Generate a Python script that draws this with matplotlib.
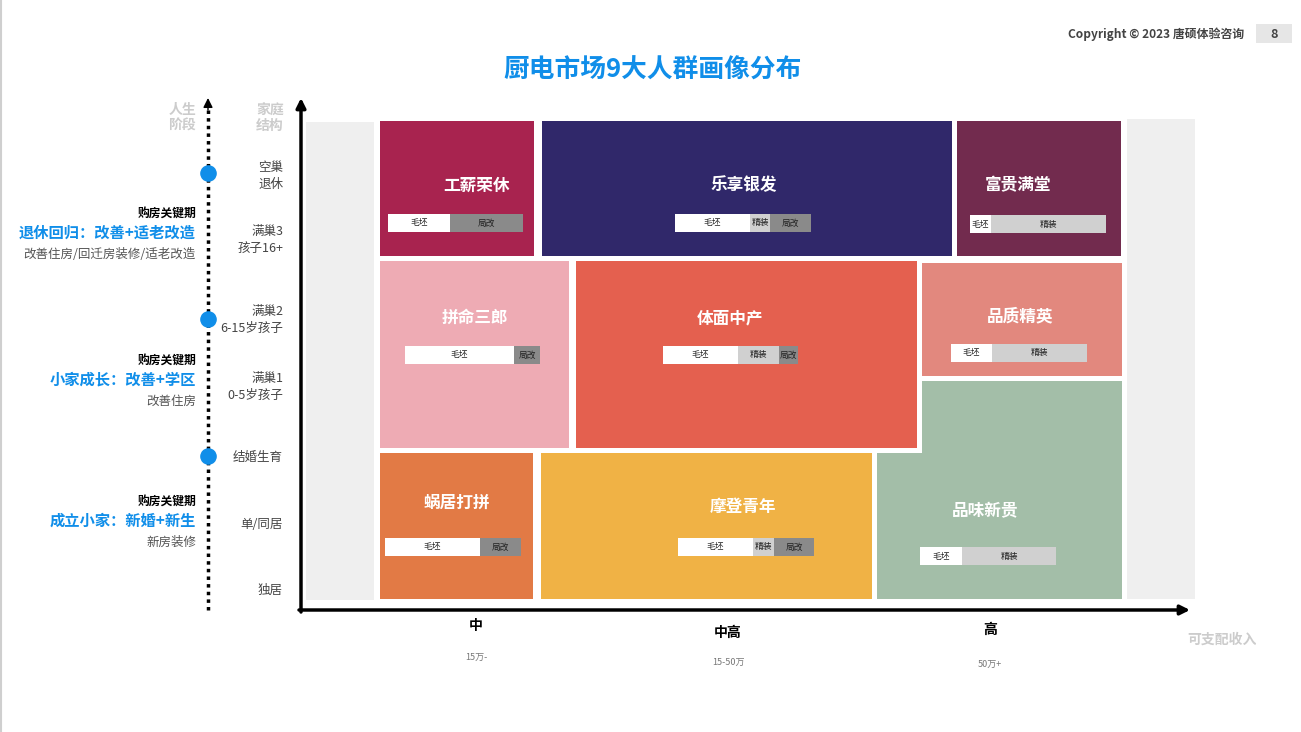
import matplotlib.pyplot as plt

plt.rcParams['font.family'] = ['Noto Sans CJK SC', 'DejaVu Sans']

# --- data ---
group_names = ['工薪荣休', '乐享银发', '富贵满堂', '拼命三郎', '体面中产', '品质精英',
               '蜗居打拼', '摩登青年', '品味新贵']
group_colors = ['#a8234f', '#30286a', '#722b4e', '#eeabb4', '#e4604f', '#e2887e',
                '#e27a45', '#f0b245', '#a3bea8']
# box extents (x0, x1, y0, y1) on the income / family-structure grid
box_x0 = [380, 542, 957, 380, 576, 922, 380, 541, 877]
box_x1 = [534, 952, 1121, 569, 917, 1122, 533, 872, 1122]
box_y0 = [121, 121, 121, 261, 261, 263, 453, 453, 453]
box_y1 = [256, 256, 256, 448, 448, 376, 599, 599, 599]
# extra upper part of 品味新贵 (L shape)
extra_x0, extra_x1, extra_y0, extra_y1 = 922, 1122, 381, 453

label_x = [476, 744, 1018, 475, 730, 1020, 457, 743, 985]
label_y = [186, 185, 185, 318, 318, 316, 503, 507, 511]

# decoration split bars: 毛坯 / 精装 / 局改
seg_names = ['毛坯', '精装', '局改']
seg_colors = ['#ffffff', '#d0d0d0', '#8a8a8a']
bar_start = [388, 675, 970, 405, 663, 951, 385, 678, 920]
bar_y = [223, 223, 224, 355, 355, 353, 547, 547, 556]
maopi = [62, 75, 21, 109, 75, 41, 95, 75, 42]
jingzhuang = [0, 20, 115, 0, 41, 95, 0, 21, 94]
jugai = [73, 41, 0, 26, 19, 0, 41, 40, 0]

family_labels = ['空巢\n退休', '满巢3\n孩子16+', '满巢2\n6-15岁孩子', '满巢1\n0-5岁孩子',
                 '结婚生育', '单/同居', '独居']
family_y = [176, 240, 320, 387, 457, 524, 590]

stage_key = ['购房关键期', '购房关键期', '购房关键期']
stage_title = ['退休回归：改善+适老改造', '小家成长：改善+学区', '成立小家：新婚+新生']
stage_desc = ['改善住房/回迁房装修/适老改造', '改善住房', '新房装修']
stage_y = [214, 361, 502]
dot_y = [173, 319, 456]

income_labels = ['中', '中高', '高']
income_ranges = ['15万-', '15-50万', '50万+']
income_x = [476, 728, 990]
income_label_y = [626, 633, 630]
income_range_y = [657, 662, 664]

blue = '#108ee9'

fig = plt.figure(figsize=(13.01, 7.32), dpi=100)
ax = fig.add_axes([0, 0, 1, 1])
ax.set_xlim(0, 1301)
ax.set_ylim(732, 0)
ax.axis('off')

# left page border
ax.plot([1, 1], [0, 732], color='#cfcfcf', lw=1.5)

# header
ax.text(1244, 34, 'Copyright © 2023 唐硕体验咨询', ha='right', va='center',
        fontsize=8.6, fontweight='bold', color='#444444')
ax.bar(1256, 19, bottom=24, width=36, align='edge', color='#e6e6e6')
ax.text(1274, 34, '8', ha='center', va='center', fontsize=9, fontweight='bold', color='#444444')

ax.text(653, 70, '厨电市场9大人群画像分布', ha='center', va='center',
        fontsize=18.5, fontweight='bold', color=blue)

# grey side columns
ax.bar(306, 478, bottom=122, width=68, align='edge', color='#efefef')
ax.bar(1127, 480, bottom=119, width=68, align='edge', color='#efefef')

# group boxes
for i in range(len(group_names)):
    ax.bar(box_x0[i], box_y1[i] - box_y0[i], bottom=box_y0[i], width=box_x1[i] - box_x0[i],
           align='edge', color=group_colors[i])
    ax.text(label_x[i], label_y[i], group_names[i], ha='center', va='center',
            fontsize=12, fontweight='bold', color='white')
ax.bar(extra_x0, extra_y1 - extra_y0, bottom=extra_y0, width=extra_x1 - extra_x0,
       align='edge', color=group_colors[8])

# stacked decoration bars
for i in range(len(group_names)):
    left = bar_start[i]
    for name, col, w in zip(seg_names, seg_colors, [maopi[i], jingzhuang[i], jugai[i]]):
        if w == 0:
            continue
        ax.barh(bar_y[i], w, left=left, height=18, color=col)
        ax.text(left + w / 2, bar_y[i], name, ha='center', va='center', fontsize=6.3, color='#222222')
        left += w

# axes arrows
ax.annotate('', xy=(301, 98), xytext=(301, 612),
            arrowprops=dict(arrowstyle='-|>', lw=2.5, color='black', mutation_scale=14,
                            shrinkA=0, shrinkB=0))
ax.annotate('', xy=(1190, 610), xytext=(299, 610),
            arrowprops=dict(arrowstyle='-|>', lw=2.5, color='black', mutation_scale=14,
                            shrinkA=0, shrinkB=0))

# life-stage dotted axis
ax.plot([208, 208], [610, 108], color='black', lw=2.5, linestyle=(0, (1, 1.2)))
ax.annotate('', xy=(208, 98), xytext=(208, 110),
            arrowprops=dict(arrowstyle='-|>', lw=1, color='black', mutation_scale=14,
                            shrinkA=0, shrinkB=0))
ax.scatter([208] * len(dot_y), dot_y, s=120, color=blue, zorder=5)

ax.text(196, 118, '人生\n阶段', ha='right', va='center', fontsize=10, fontweight='bold',
        color='#cccccc', linespacing=1.1)
ax.text(284, 118, '家庭\n结构', ha='right', va='center', fontsize=10, fontweight='bold',
        color='#cccccc', linespacing=1.1)

for lab, y in zip(family_labels, family_y):
    ax.text(283, y, lab, ha='right', va='center', fontsize=9, color='#444444', linespacing=1.35)

for k, t, d, y in zip(stage_key, stage_title, stage_desc, stage_y):
    ax.text(196, y, k, ha='right', va='center', fontsize=8.5, fontweight='bold', color='black')
    ax.text(196, y + 19, t, ha='right', va='center', fontsize=11, fontweight='bold', color=blue)
    ax.text(196, y + 40, d, ha='right', va='center', fontsize=9, color='#555555')

for lab, rng, x, ly, ry in zip(income_labels, income_ranges, income_x, income_label_y, income_range_y):
    ax.text(x, ly, lab, ha='center', va='center', fontsize=10, fontweight='bold', color='black')
    ax.text(x, ry, rng, ha='center', va='center', fontsize=6.5, color='#777777')

ax.text(1222, 640, '可支配收入', ha='center', va='center', fontsize=10, fontweight='bold',
        color='#cccccc')

fig.savefig('out.png', dpi=100)
